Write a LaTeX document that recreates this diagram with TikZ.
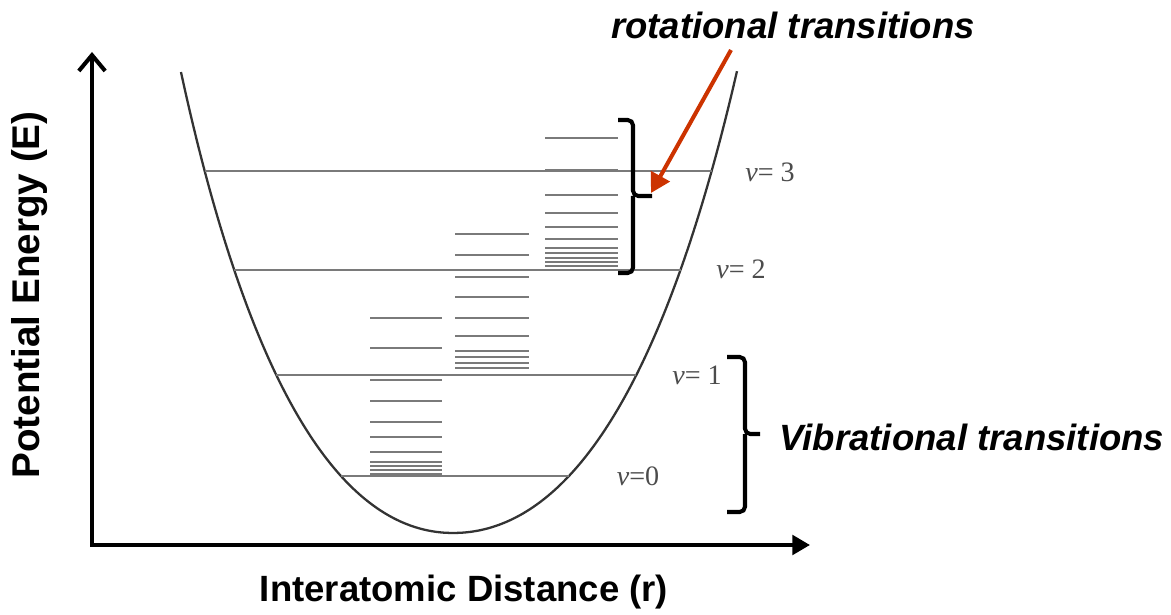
\documentclass[tikz,border=0pt]{standalone}
\usepackage{fontspec}
\setmainfont{Liberation Sans}
\newfontfamily\nufont{Liberation Serif}
\usetikzlibrary{arrows.meta}
\definecolor{arrowred}{HTML}{CC3300}
\definecolor{levelgrey}{HTML}{7A7A7A}

\begin{document}
\begin{tikzpicture}[
  x=0.02cm, y=-0.02cm,
  axis/.style={line width=2.3pt, draw=black, line cap=rect},
  well/.style={line width=1.3pt, draw=black!80},
  vlevel/.style={line width=1pt, draw=levelgrey},
  rlevel/.style={line width=0.8pt, draw=levelgrey},
  brace/.style={line width=2.3pt, draw=black, rounded corners=3pt},
  pointer/.style={-{Triangle[length=11pt, width=12pt]}, line width=2.3pt, draw=arrowred},
  axlabel/.style={font=\fontsize{20.8}{25}\selectfont\bfseries},
  note/.style={font=\fontsize{20.8}{25}\selectfont\bfseries\itshape},
  vlabel/.style={font=\fontsize{16}{19}\selectfont\nufont, text=black!70, inner sep=0pt},
]
\useasboundingbox (0,0) rectangle (1171,615);

% === Axes ===
\coordinate (origin) at (92,545);
\coordinate (ytop) at (92,52);
\coordinate (xend) at (810,545);
\draw[axis, -{Straight Barb[length=9pt, width=15pt]}] (origin) -- (ytop);
\draw[axis, -{Triangle[length=10pt, width=11pt]}] (origin) -- (xend);

\node[axlabel, font=\fontsize{22}{26}\selectfont\bfseries, rotate=90] (ylabel) at (30,295) {Potential Energy (E)};
\node[axlabel] (xlabel) at (464,592) {Interatomic Distance (r)};

% === Potential well ===
\draw[well] plot[domain=21.47:0, samples=40, smooth, variable=\s]
    ({453-16.02*\s+0.156*\s*\s}, {533-\s*\s})
  -- plot[domain=0:21.49, samples=40, smooth, variable=\s]
    ({453+16.52*\s-0.1538*\s*\s}, {533-\s*\s});

% === Vibrational levels ===
\draw[vlevel] (341,476) -- (569,476);
\draw[vlevel] (276,375) -- (636,375);
\draw[vlevel] (234,270) -- (681,270);
\draw[vlevel] (205,171) -- (712,171);

\node[vlabel] (v0) at (638,476) {{\itshape ν}=0};
\node[vlabel] (v1) at (697,375) {{\itshape ν}= 1};
\node[vlabel] (v2) at (741,269) {{\itshape ν}= 2};
\node[vlabel] (v3) at (770,172) {{\itshape ν}= 3};

% === Rotational levels ===
\foreach \y in {318,348,380,401,422,437,452,462,466,470,474}
  \draw[rlevel] (370,\y) -- (442,\y);
\foreach \y in {234,255,277,297,318,336,351,357,363,368}
  \draw[rlevel] (455,\y) -- (529,\y);
\foreach \y in {138,170,195,213,227,239,248,253,258,262,266}
  \draw[rlevel] (545,\y) -- (618,\y);

% === Braces ===
\coordinate (rotbrace) at (652,196);
\draw[brace] (618,120) -| (633,196) -- (rotbrace);
\draw[brace] (633,196) |- (618,273);

\coordinate (vibbrace) at (760,434);
\draw[brace] (727,357) -| (745,434) -- (vibbrace);
\draw[brace] (745,434) |- (727,512);

% === Labels ===
\node[note] (rotlabel) at (793,25) {rotational transitions};
\node[note] (viblabel) at (972,437) {Vibrational transitions};

% red pointer
\coordinate (redstart) at (731,50);
\coordinate (rottip) at (651,193);
\draw[pointer] (redstart) -- (rottip);

\end{tikzpicture}
\end{document}
